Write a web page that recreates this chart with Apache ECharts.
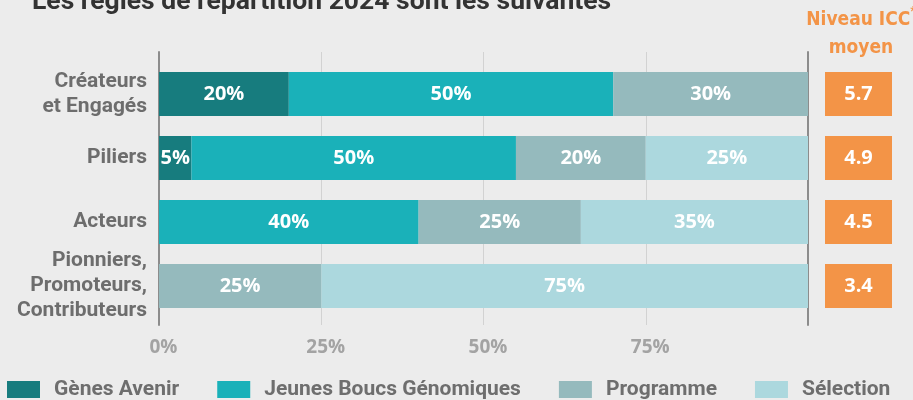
<html lang="fr">
<head>
	<meta charset="UTF-8">
	<script src="https://cdn.jsdelivr.net/npm/echarts@6/dist/echarts.min.js"></script>
	<title>Règles de répartition 2024</title>
</head>
<body style="margin:0;background:#ececec">
<div id="pic" style="width:913px;height:400px"></div>
<script>
	"use strict";

	// donnees
	const categories=["Créateurs\net Engagés","Piliers","Acteurs","Pionniers,\nPromoteurs,\nContributeurs"];
	const genesAvenir=[20,5,null,null];
	const jeunesBoucs=[50,50,40,null];
	const programme=[30,20,25,25];
	const selection=[null,25,35,75];
	const icc=[5.7,4.9,4.5,3.4];
	const ticks=[0,25,50,75,100];

	const names=["Gènes Avenir","Jeunes Boucs Génomiques","Programme","Sélection"];
	const colors=["#177c7e","#1ab1b9","#95babd","#acd8de"];
	const values=[genesAvenir,jeunesBoucs,programme,selection];

	const barTop=62,barBottom=82;

	let series=values.map((v,i)=>({
		name:names[i],
		type:"bar",
		stack:"tot",
		xAxisIndex:0,
		yAxisIndex:0,
		barWidth:44,
		itemStyle:{color:colors[i]},
		label:{
			show:true,
			color:"#fff",
			fontFamily:"'Open Sans',sans-serif",
			fontWeight:"bold",
			fontSize:20,
			formatter:p=>p.value?p.value+"%":""
		},
		data:v
	}));
	series.push({
		name:"icc",
		type:"bar",
		xAxisIndex:2,
		yAxisIndex:2,
		barWidth:44,
		itemStyle:{color:"#f39447"},
		label:{
			show:true,
			position:"inside",
			color:"#fff",
			fontFamily:"'Open Sans',sans-serif",
			fontWeight:"bold",
			fontSize:20,
			formatter:p=>icc[p.dataIndex].toFixed(1)
		},
		data:icc.map(()=>1)
	});

	let pic=echarts.init(document.getElementById("pic"));
	let option={
		backgroundColor:"#ececec",
		animation:false,
		title:[
			{
				text:"Les règles de répartition 2024 sont les suivantes",
				left:27,top:-16,
				textStyle:{fontFamily:"Roboto",fontWeight:"bold",fontSize:26.5,color:"#333"}
			},
			{
				text:"{a|Niveau ICC}{s|*}\n{a|moyen}",
				left:856,top:1,textAlign:"center",
				textStyle:{
					rich:{
						a:{fontFamily:"'DejaVu Sans Condensed',Roboto",fontWeight:"bold",fontSize:19,color:"#f39447",lineHeight:28},
						s:{fontFamily:"Roboto",fontWeight:"bold",fontSize:12,color:"#f39447",verticalAlign:"top",lineHeight:28}
					}
				}
			}
		],
		legend:{
			data:names,
			left:7,top:379,padding:0,
			itemWidth:33,itemHeight:17,itemGap:38,
			icon:"rect",
			textStyle:{fontFamily:"Roboto",fontWeight:"bold",fontSize:21,color:"#6e6e6e",padding:[0,0,0,9]}
		},
		grid:[
			{left:159,right:105,top:barTop,bottom:barBottom},
			{left:159,right:105,top:52,bottom:75},
			{left:825,right:21,top:barTop,bottom:barBottom}
		],
		xAxis:[
			{gridIndex:0,type:"value",min:0,max:100,show:false},
			{
				gridIndex:1,type:"value",min:0,max:100,interval:25,
				axisLine:{show:false},axisTick:{show:false},
				splitLine:{show:true,lineStyle:{color:"#d2d2d2",width:1}},
				axisLabel:{
					margin:13,
					padding:[0,0,0,9],
					color:"#a3a3a3",
					fontFamily:"'Open Sans',sans-serif",
					fontWeight:"bold",
					fontSize:19,
					formatter:v=>ticks.indexOf(v)>=0&&v<100?v+"%":""
				}
			},
			{gridIndex:2,type:"value",min:0,max:1,show:false}
		],
		yAxis:[
			{
				gridIndex:0,type:"category",data:categories,inverse:true,
				axisLine:{show:false},axisTick:{show:false},
				axisLabel:{
					margin:12,
					color:"#6d6d6d",
					fontFamily:"Roboto",
					fontWeight:"bold",
					fontSize:21,
					lineHeight:25
				}
			},
			{
				gridIndex:1,type:"category",data:categories,
				axisLine:{show:true,lineStyle:{color:"#8c8c8c",width:2}},
				axisTick:{show:false},axisLabel:{show:false},splitLine:{show:false}
			},
			{gridIndex:2,type:"category",data:categories,inverse:true,show:false},
			{
				gridIndex:1,type:"category",data:categories,position:"right",
				axisLine:{show:true,lineStyle:{color:"#8c8c8c",width:2}},
				axisTick:{show:false},axisLabel:{show:false},splitLine:{show:false}
			}
		],
		series:series
	};
	pic.setOption(option);
</script>
</body>
</html>
